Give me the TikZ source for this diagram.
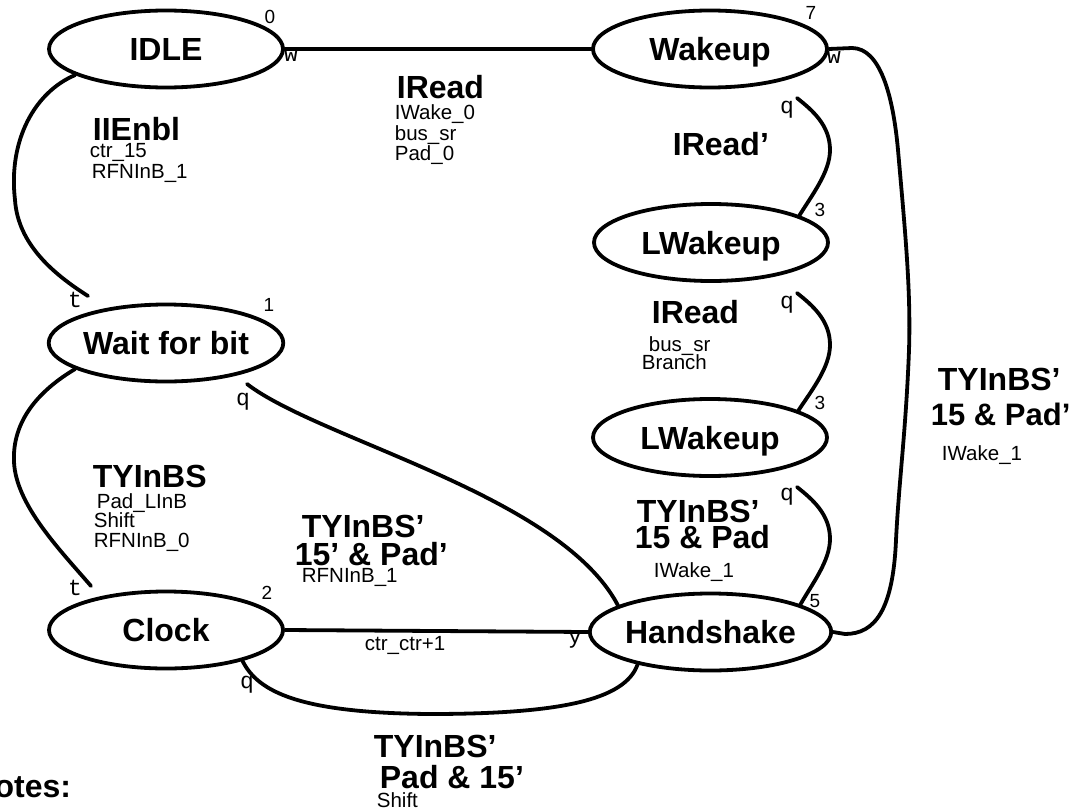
\documentclass[tikz,border=0pt]{standalone}
\usepackage{fontspec}
\setmainfont{Liberation Sans}
\newfontfamily\monofam{Liberation Mono}
\usetikzlibrary{shapes.geometric}
\begin{document}
\begin{tikzpicture}[x=1pt,y=-1pt, line width=3.8pt, line join=round, line cap=round,
 state/.style={ellipse, draw, line width=3.8pt, minimum width=234pt, minimum height=77pt, inner sep=0pt, text height=23pt, text depth=0pt, font=\fontsize{32}{32}\selectfont\bfseries},
 big/.style={anchor=base west, inner sep=0pt, font=\fontsize{32}{32}\selectfont\bfseries},
 small/.style={anchor=base west, inner sep=0pt, font=\fontsize{20.5}{20.5}\selectfont},
 num/.style={inner sep=0pt, font=\fontsize{19}{19}\selectfont},
 port/.style={inner sep=0pt, font=\monofam\fontsize{23}{23}\selectfont}]
\useasboundingbox (0,0) rectangle (1076,811);

% states
\node[state] (IDLE) at (166,49) {IDLE};
\node[state] (Wakeup) at (710,49) {Wakeup};
\node[state] (LW1) at (711,242.5) {LWakeup};
\node[state] (LW2) at (710,437.5) {LWakeup};
\node[state] (HS) at (710.5,632) {Handshake};
\node[state] (Wait) at (166,343) {Wait for bit};
\node[state] (Clock) at (166,630) {Clock};

% free ends
\coordinate (t1) at (88,296);
\coordinate (t2) at (91,586);
\coordinate (q1) at (797,98);
\coordinate (q2) at (797,293);
\coordinate (q3) at (797,487);
\coordinate (qw) at (247,384);

% connectors
\draw (IDLE.east) -- (Wakeup.west);
\draw (IDLE.196) .. controls (35,92) and (8,140) .. (15,200) .. controls (18,245) and (55,275) .. (t1);
\draw (Wait.196) .. controls (40,390) and (12,420) .. (14,462) .. controls (16,505) and (60,550) .. (t2);
\draw (qw) .. controls (320,440) and (560,495) .. (HS.164);
\draw (q1) .. controls (812,110) and (830,125) .. (830,150) .. controls (830,172) and (812,195) .. (LW1.17);
\draw (q2) .. controls (812,305) and (830,320) .. (830,345) .. controls (830,367) and (812,390) .. (LW2.17);
\draw (q3) .. controls (812,499) and (830,514) .. (830,539) .. controls (830,561) and (812,584) .. (HS.17);
\draw (Wakeup.east) -- (852,48) .. controls (880,48) and (893,95) .. (898,150) .. controls (905,230) and (911,290) .. (909,350) .. controls (906,430) and (899,480) .. (896,540) .. controls (893,610) and (875,634) .. (845,634) -- (HS.east);
\draw (Clock.east) -- (HS.west);
\draw (Clock.-22) .. controls (258,692) and (300,713) .. (430,714) .. controls (560,714) and (625,700) .. (HS.204);

% state numbers
\node[num] (n0) at (270,17) {0};
\node[num] (n7) at (811,13) {7};
\node[num] (n1) at (269,305) {1};
\node[num] (n2) at (267,593) {2};
\node[num] (n3a) at (820,210) {3};
\node[num] (n3b) at (820,403) {3};
\node[num] (n5) at (815,601) {5};

% port letters
\node[port] (pw1) at (291,55) {w};
\node[port] (pw2) at (834,57) {w};
\node[port] (pt1) at (75,300) {t};
\node[port] (pt2) at (75,588) {t};
\node[port] (pq1) at (243,402) {q};
\node[port] (pq2) at (787,110) {q};
\node[port] (pq3) at (787,305) {q};
\node[port] (pq4) at (787,497) {q};
\node[port] (pq5) at (247,685) {q};
\node[port] (py) at (575,640) {y};

% bold labels
\node[big] (b1) at (395,98) {IRead};
\node[big] (b2) at (91,140) {IIEnbl};
\node[big] (b3) at (671,155) {IRead’};
\node[big] (b4) at (650,323) {IRead};
\node[big] (b5) at (635,522) {TYInBS’};
\node[big] (b6) at (633,548) {15 \& Pad};
\node[big] (b7) at (936,390) {TYInBS’};
\node[big, font=\fontsize{31}{31}\selectfont\bfseries] (b8) at (929,425) {15 \& Pad’};
\node[big] (b9) at (91,487) {TYInBS};
\node[big] (b10) at (300,537) {TYInBS’};
\node[big] (b11) at (293,565) {15’ \& Pad’};
\node[big] (b12) at (372,757) {TYInBS’};
\node[big] (b13) at (378,788) {Pad \& 15’};
\node[big, anchor=base east] (notes) at (73,797) {otes:};

% small labels
\node[small] (s1) at (393,119) {IWake\_0};
\node[small] (s2) at (393,140) {bus\_sr};
\node[small] (s3) at (393,160) {Pad\_0};
\node[small] (s4) at (88,157) {ctr\_15};
\node[small] (s5) at (90,178) {RFNInB\_1};
\node[small] (s6) at (647,351) {bus\_sr};
\node[small] (s7) at (640,369) {Branch};
\node[small] (s8) at (652,577) {IWake\_1};
\node[small] (s9) at (940,460) {IWake\_1};
\node[small] (s10) at (95,508) {Pad\_LInB};
\node[small] (s11) at (92,527) {Shift};
\node[small] (s12) at (92,547) {RFNInB\_0};
\node[small] (s13) at (300,582) {RFNInB\_1};
\node[small] (s14) at (363,650) {ctr\_ctr+1};
\node[small] (s15) at (375,807) {Shift};
\end{tikzpicture}
\end{document}
